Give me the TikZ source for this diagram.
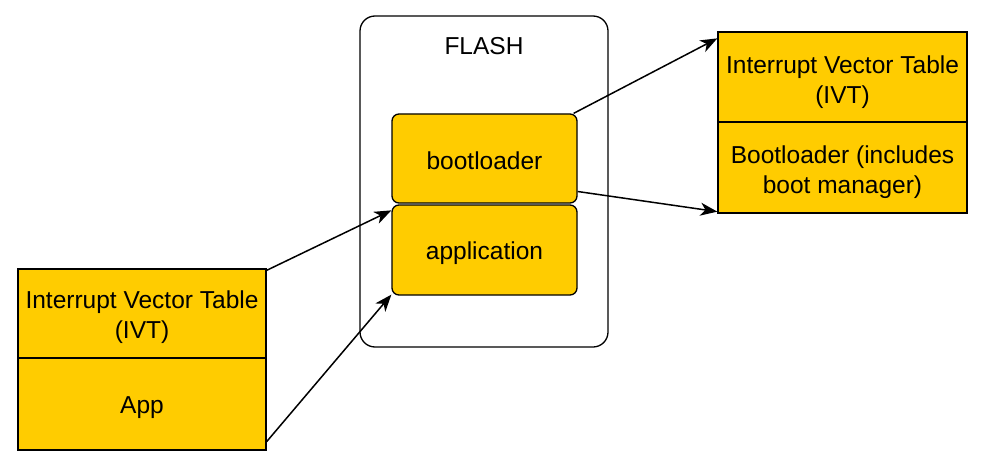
\documentclass[tikz,border=0pt]{standalone}
\usepackage{fontspec}
\setmainfont{Liberation Sans}
\usetikzlibrary{arrows.meta,calc}
\definecolor{gold}{HTML}{FFCC00}
\tikzset{
  txt/.style={align=center, font=\fontsize{24.5}{30}\selectfont, inner sep=0pt},
  stackbox/.style={draw=black, fill=gold, line width=1.3pt, inner sep=0pt},
  memblock/.style={stackbox, rounded corners=7pt},
  conn/.style={line width=1.5pt, -{Stealth[length=17pt,width=13pt,inset=5pt]}},
}
\begin{document}
\begin{tikzpicture}[x=1pt,y=-1pt]
\useasboundingbox (0,0) rectangle (984,468);
% FLASH container
\node[draw=black, line width=1.3pt, rounded corners=15pt, minimum width=248pt, minimum height=331pt, inner sep=0pt] (flash) at (484,181.5) {};
\node[txt] (flashlbl) at (484,46) {FLASH};
\node[memblock, minimum width=185pt, minimum height=89pt, label={[txt,yshift=-2pt]center:bootloader}] (boot) at (484.5,158.5) {};
\node[memblock, minimum width=185pt, minimum height=90pt, label={[txt,yshift=-3pt]center:application}] (appl) at (484.5,250) {};
% left stack
\node[stackbox, minimum width=248pt, minimum height=89pt, label={[txt,yshift=-4pt]center:Interrupt Vector Table\\(IVT)}] (livt) at (142,313.5) {};
\node[stackbox, minimum width=248pt, minimum height=92pt, label={[txt,yshift=-4pt]center:App}] (lapp) at (142,404) {};
% right stack
\node[stackbox, minimum width=249pt, minimum height=90pt, label={[txt,yshift=-5pt]center:Interrupt Vector Table\\(IVT)}] (rivt) at (842.5,77) {};
\node[stackbox, minimum width=249pt, minimum height=91pt, label={[txt,yshift=-5pt]center:Bootloader (includes\\boot manager)}] (rboot) at (842.5,167.5) {};
% connectors
\draw[conn] ($(livt.north east)+(0,2)$) -- ($(appl.north west)+(0,6)$);
\draw[conn] ($(lapp.south east)+(0,-9)$) -- ($(appl.south west)+(0,-1)$);
\draw[conn] ($(boot.north east)+(-4,0)$) -- ($(rivt.north west)+(0,7)$);
\draw[conn] ($(boot.east)+(0,33)$) -- ($(rboot.south west)+(0,-2)$);
\end{tikzpicture}
\end{document}
